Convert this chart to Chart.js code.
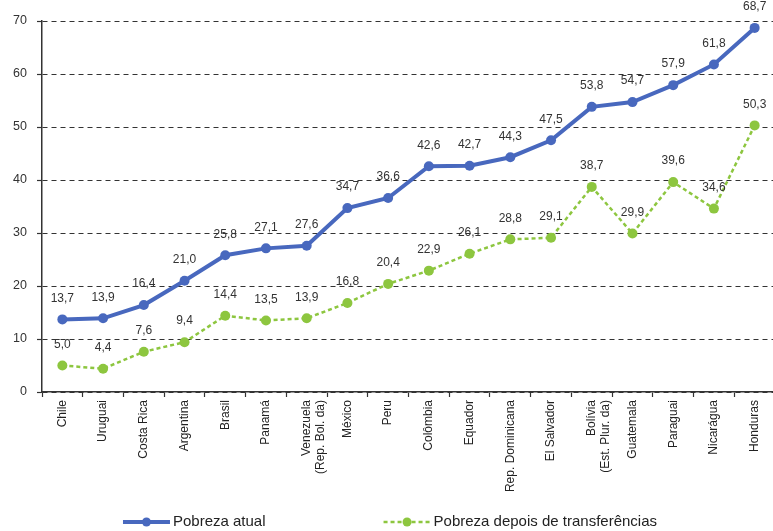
<!DOCTYPE html>
<html>
<head>
<meta charset="utf-8">
<script src="https://cdn.jsdelivr.net/npm/chart.js@4"></script>
<style>
  html, body { margin: 0; padding: 0; background: #fff; overflow: hidden; }
  #wrap { width: 780px; height: 531px; position: relative; }
</style>
</head>
<body>
<div id="wrap"><canvas id="c"></canvas></div>
<script>
const categories = ['Chile', 'Uruguai', 'Costa Rica', 'Argentina', 'Brasil', 'Panamá',
  ['Venezuela', '(Rep. Bol. da)'], 'México', 'Peru', 'Colômbia', 'Equador', 'Rep. Dominicana',
  'El Salvador', ['Bolívia', '(Est. Plur. da)'], 'Guatemala', 'Paraguai', 'Nicarágua', 'Honduras'];
const pobrezaAtual = [13.7, 13.9, 16.4, 21.0, 25.8, 27.1, 27.6, 34.7, 36.6, 42.6, 42.7, 44.3, 47.5, 53.8, 54.7, 57.9, 61.8, 68.7];
const pobrezaDepois = [5.0, 4.4, 7.6, 9.4, 14.4, 13.5, 13.9, 16.8, 20.4, 22.9, 26.1, 28.8, 29.1, 38.7, 29.9, 39.6, 34.6, 50.3];
const seriesNames = ['Pobreza atual', 'Pobreza depois de transferências'];
const yTicks = [0, 10, 20, 30, 40, 50, 60, 70];

const BLUE = '#4868be';
const GREEN = '#8dc63f';
const FONT = '"Liberation Sans", Arial, sans-serif';

const dataLabels = {
  id: 'dataLabels',
  afterDatasetsDraw(chart) {
    const ctx = chart.ctx;
    ctx.save();
    ctx.font = '12px ' + FONT;
    ctx.fillStyle = '#333';
    ctx.textAlign = 'center';
    ctx.textBaseline = 'middle';
    chart.data.datasets.forEach((ds, i) => {
      const meta = chart.getDatasetMeta(i);
      meta.data.forEach((pt, j) => {
        const v = ds.data[j];
        ctx.fillText(v.toFixed(1).replace('.', ','), pt.x, pt.y - 21);
      });
    });
    ctx.restore();
  }
};

const customLegend = {
  id: 'customLegend',
  afterDraw(chart) {
    const ctx = chart.ctx;
    ctx.save();
    ctx.font = '15px ' + FONT;
    const lineLen = 47, gapText = 3, gapItems = 118;
    const ds = chart.data.datasets;
    const widths = ds.map(d => lineLen + gapText + ctx.measureText(d.label).width);
    const total = widths.reduce((a, b) => a + b, 0) + gapItems * (ds.length - 1);
    let x = chart.width / 2 - total / 2;
    const y = chart.height - 9;
    ds.forEach((d, i) => {
      ctx.strokeStyle = d.borderColor;
      ctx.lineWidth = d.borderWidth;
      ctx.setLineDash(d.borderDash || []);
      ctx.beginPath();
      ctx.moveTo(x, y);
      ctx.lineTo(x + lineLen, y);
      ctx.stroke();
      ctx.setLineDash([]);
      ctx.fillStyle = d.pointBackgroundColor;
      ctx.beginPath();
      ctx.arc(x + lineLen / 2, y, 4.5, 0, Math.PI * 2);
      ctx.fill();
      ctx.fillStyle = '#222';
      ctx.textAlign = 'left';
      ctx.textBaseline = 'middle';
      ctx.fillText(d.label, x + lineLen + gapText, y);
      x += widths[i] + gapItems;
    });
    ctx.restore();
  }
};

new Chart(document.getElementById('c'), {
  type: 'line',
  data: {
    labels: categories,
    datasets: [
      {
        label: seriesNames[0],
        data: pobrezaAtual,
        borderColor: BLUE,
        backgroundColor: BLUE,
        pointBackgroundColor: BLUE,
        pointBorderColor: BLUE,
        borderWidth: 4,
        pointRadius: 5,
        pointBorderWidth: 0,
        tension: 0
      },
      {
        label: seriesNames[1],
        data: pobrezaDepois,
        borderColor: GREEN,
        backgroundColor: GREEN,
        pointBackgroundColor: GREEN,
        pointBorderColor: GREEN,
        borderWidth: 2.5,
        borderDash: [4, 3],
        pointRadius: 5,
        pointBorderWidth: 0,
        tension: 0
      }
    ]
  },
  options: {
    responsive: true,
    maintainAspectRatio: false,
    animation: false,
    layout: { padding: { top: 21, bottom: 29, left: 0, right: 0 } },
    plugins: {
      legend: { display: false },
      tooltip: { enabled: false }
    },
    scales: {
      x: {
        offset: true,
        grid: {
          offset: true,
          drawOnChartArea: false,
          drawTicks: true,
          tickLength: 5,
          tickColor: '#333',
          tickWidth: 1.2
        },
        border: { display: true, color: '#333', width: 1.5 },
        ticks: {
          autoSkip: false,
          minRotation: 90,
          maxRotation: 90,
          padding: 3,
          color: '#222',
          font: { family: FONT, size: 12 }
        },
        afterFit(scale) { scale.height = 110; }
      },
      y: {
        min: 0,
        max: 70,
        afterBuildTicks(scale) { scale.ticks = yTicks.map(v => ({ value: v })); },
        grid: {
          color: '#333',
          lineWidth: 1,
          drawTicks: true,
          tickLength: 5,
          tickColor: '#333',
          tickBorderDash: [],
          tickWidth: 1.2
        },
        border: { display: true, color: '#333', width: 1.5, dash: [5, 4] },
        ticks: {
          padding: 10,
          color: '#333',
          font: { family: FONT, size: 12.5 }
        },
        afterFit(scale) { scale.width = 42; }
      }
    }
  },
  plugins: [dataLabels, customLegend]
});
</script>
</body>
</html>
